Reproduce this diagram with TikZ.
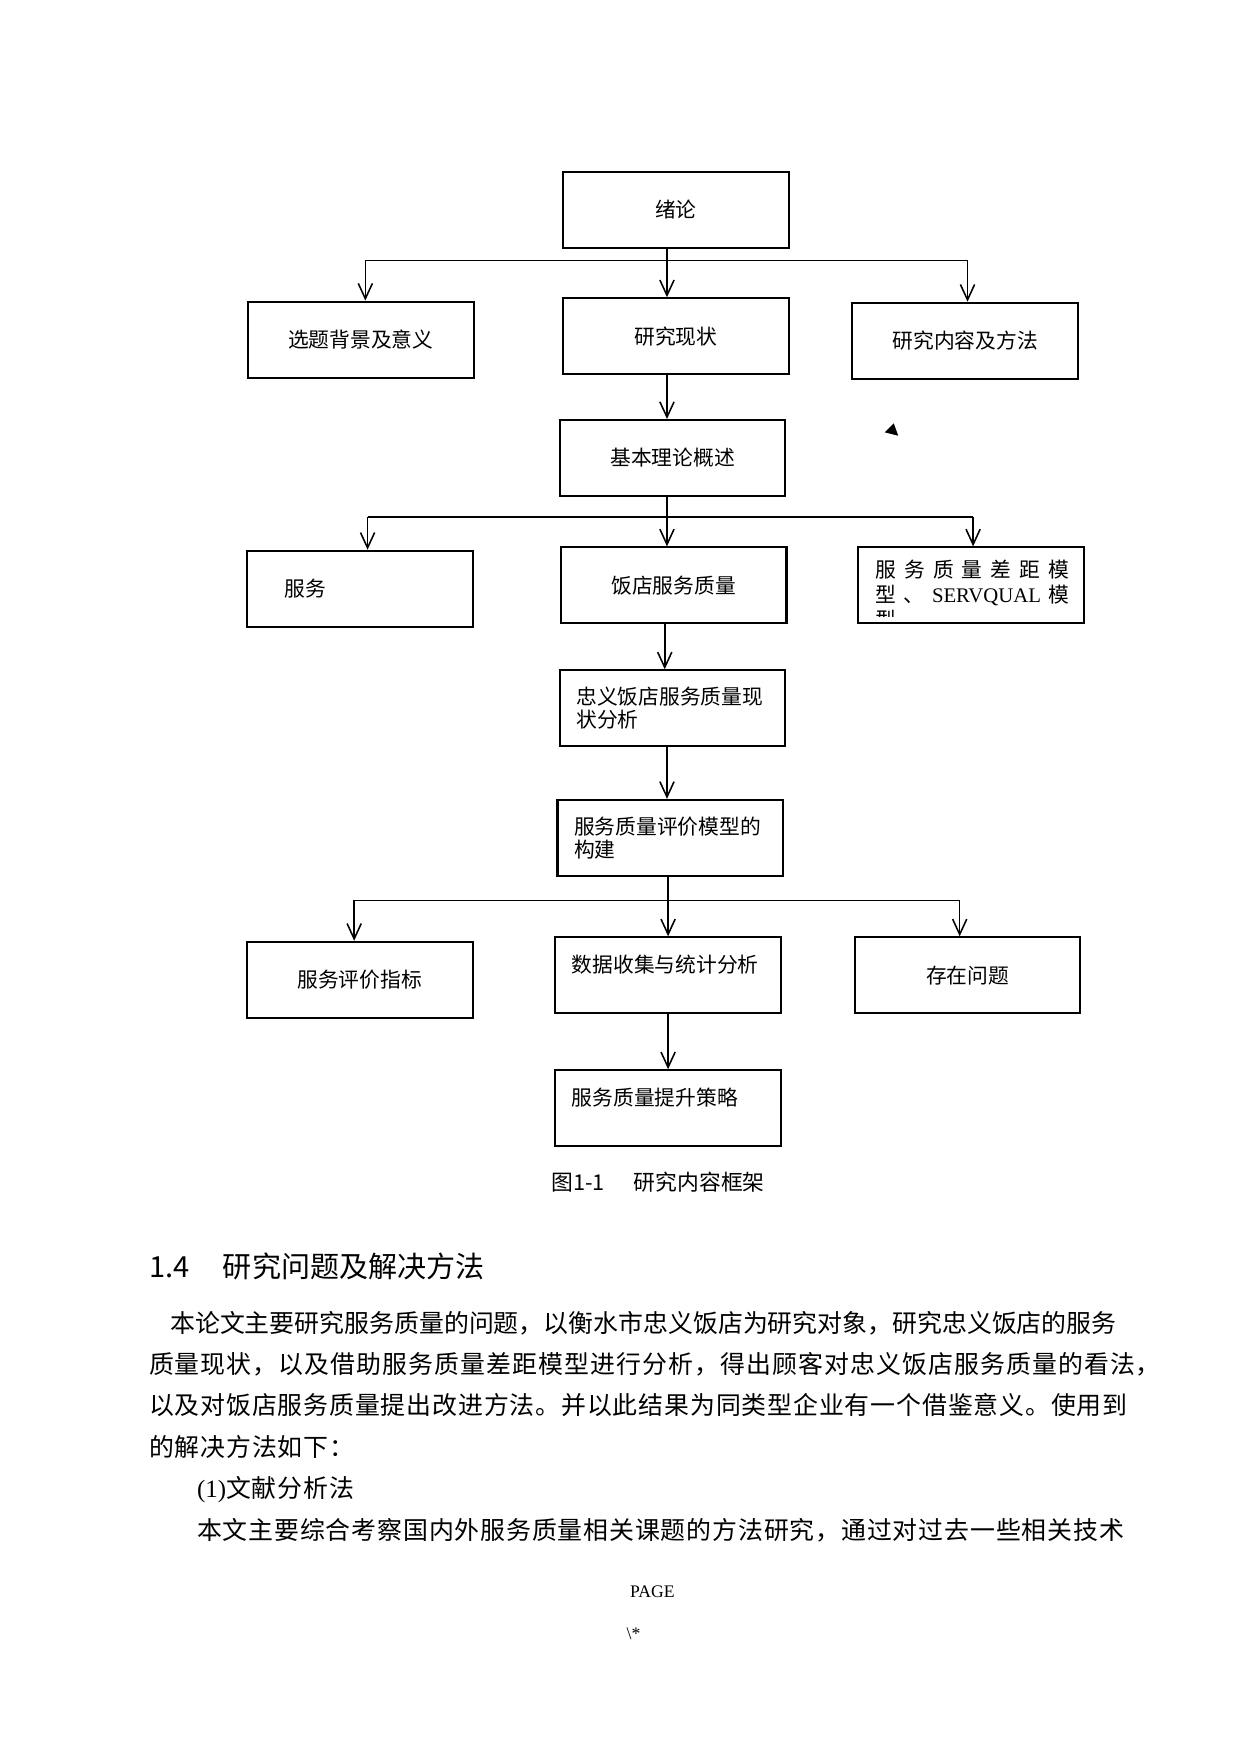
\documentclass[tikz,border=0pt]{standalone}
\usepackage{fontspec}
\setmainfont{Noto Sans CJK SC}
\newfontfamily\latserif{Liberation Serif}
\newfontfamily\spaced[LetterSpace=3.5]{Noto Sans CJK SC}
\XeTeXlinebreaklocale "zh"
\XeTeXlinebreakskip=0pt plus 1pt
\usetikzlibrary{arrows.meta}

\begin{document}
\begin{tikzpicture}[x=0.018919cm, y=-0.018919cm, >={Straight Barb[length=2.6mm,width=2.4mm]},
  box/.style={draw, line width=1pt, minimum width=3.822cm, minimum height=1.287cm,
    inner xsep=0.28cm, font=\fontsize{10}{11.3}\selectfont},
  lbox/.style={box, text width=3.26cm, align=left},
  link/.style={line width=0.75pt},
  body/.style={anchor=west, inner sep=0pt, font=\spaced\fontsize{12}{14}\selectfont}]
\useasboundingbox (0,0) rectangle (1110,1570);

% boxes
\node[box] (xulun) at (605,188) {绪论};
\node[box] (xuanti) at (323,304) {选题背景及意义};
\node[box] (xianzhuang) at (605,301) {研究现状};
\node[box] (neirong) at (864,305) {研究内容及方法};
\node[box] (jiben) at (602,410) {基本理论概述};
\node[lbox] (fuwu) at (322,527) {\hspace*{0.36cm}服务};
\node[box] (zhiliang) at (603,524) {饭店服务质量};
\node[box] (gap) at (869,524) {};
\node[lbox] (zhongyi) at (602,634) {忠义饭店服务质量现\\状分析};
\node[lbox] (pingjia) at (600,750) {服务质量评价模型的\\构建};
\node[box] (zhibiao) at (322,877) {服务评价指标};
\node[lbox] (shuju) at (598,873) {数据收集与统计分析\\\mbox{}};
\node[box] (wenti) at (866,873) {存在问题};
\node[lbox] (celue) at (598,992) {服务质量提升策略\\\mbox{}};

\begin{scope}
  \clip ([yshift=4pt]gap.south west) rectangle (gap.north east);
  \node[anchor=north west, inner sep=0pt, text width=3.29cm, align=left,
    font=\fontsize{10}{12}\selectfont] (gap-t) at (783,501)
    {\makebox[3.29cm][s]{服\hfill 务\hfill 质\hfill 量\hfill 差\hfill 距\hfill 模}\\
     \makebox[3.29cm][s]{型\hfill 、\hfill{\latserif SERVQUAL}\hfill 模}\\
     型};
\end{scope}

% connectors
\coordinate (b1l) at (327,233); \coordinate (b1r) at (866,233);
\coordinate (b2l) at (329,463); \coordinate (b2r) at (871,463);
\coordinate (b3l) at (317,806); \coordinate (b3r) at (859,806);
\foreach \l/\r in {b1l/b1r, b2l/b2r, b3l/b3r}
  \draw[link] (\l) -- (\r);
\draw[link,->] (b1l) -- (b1l |- xuanti.north);
\draw[link,->] (b1r) -- (b1r |- neirong.north);
\draw[link,->] (b2l) -- (b2l |- fuwu.north);
\draw[link,->] (b2r) -- (b2r |- gap.north);
\draw[link,->] (b3l) -- (b3l |- zhibiao.north);
\draw[link,->] (b3r) -- (b3r |- wenti.north);
\draw[link,->] (597,0 |- xulun.south) -- (597,0 |- xianzhuang.north);
\draw[link,->] (597,0 |- xianzhuang.south) -- (597,0 |- jiben.north);
\draw[link,->] (597,0 |- jiben.south) -- (597,0 |- zhiliang.north);
\draw[link,->] (595,0 |- zhiliang.south) -- (595,0 |- zhongyi.north);
\draw[link,->] (597,0 |- zhongyi.south) -- (597,0 |- pingjia.north);
\draw[link,->] (598,0 |- pingjia.south) -- (598,0 |- shuju.north);
\draw[link,->] (598,0 |- shuju.south) -- (598,0 |- celue.north);
\fill (792,387) -- (800,379) -- (804,390) -- cycle;

% text below the figure
\node[font=\fontsize{10.5}{12}\selectfont] (cap) at (589,1058) {图1-1\hspace{0.49cm}研究内容框架};
\node[anchor=west, inner sep=0pt, font=\fontsize{14}{16}\selectfont] (sec) at (133,1134)
  {1.4\hspace{0.57cm}研究问题及解决方法};
\node[body, font=\rmfamily\fontsize{12}{14}\selectfont] (l1) at (152,1184) {本论文主要研究服务质量的问题，以衡水市忠义饭店为研究对象，研究忠义饭店的服务};
\node[body] (l2) at (133,1221) {\addfontfeature{LetterSpace=4.3}质量现状，以及借助服务质量差距模型进行分析，得出顾客对忠义饭店服务质量的看法，};
\node[body] (l3) at (133,1258) {以及对饭店服务质量提出改进方法。并以此结果为同类型企业有一个借鉴意义。使用到};
\node[body] (l4) at (133,1295) {的解决方法如下：};
\node[body] (l5) at (176,1333) {{\latserif (1)}文献分析法};
\node[body] (l6) at (176,1370) {本文主要综合考察国内外服务质量相关课题的方法研究，通过对过去一些相关技术};
\node[font=\latserif\fontsize{8.5}{10}\selectfont] (pg) at (584,1425) {PAGE};
\node[font=\latserif\fontsize{8.5}{10}\selectfont] (star) at (567,1462) {\textbackslash*};
\end{tikzpicture}
\end{document}
